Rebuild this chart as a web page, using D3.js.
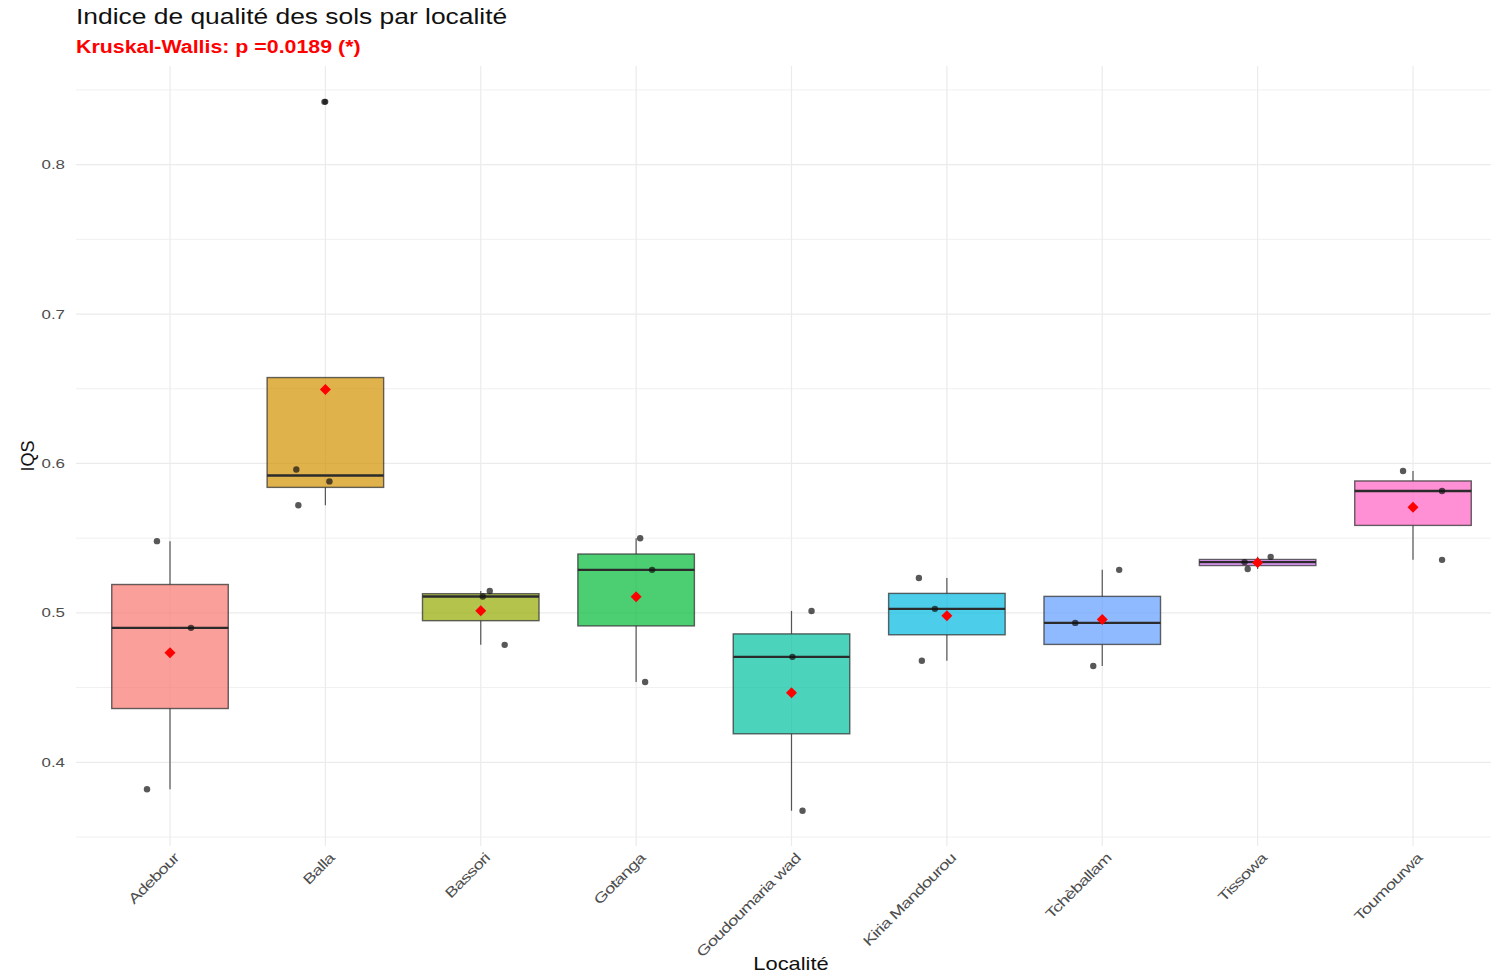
<!DOCTYPE html>
<html><head><meta charset="utf-8">
<script src="https://cdn.jsdelivr.net/npm/d3@7"></script>
<style>body{margin:0;background:#fff;font-family:"Liberation Sans",Arial,sans-serif;}</style>
</head><body><svg id="c" width="1491" height="978"></svg>
<script>
const categories = ["Adebour","Balla","Bassori","Gotanga","Goudoumaria wad","Kiria Mandourou","Tchèballam","Tissowa","Toumourwa"];
const colors = ["#F8766D","#D39200","#93AA00","#00BA38","#00C19F","#00B9E3","#619CFF","#DB72FB","#FF61C3"];
const values = [
  [0.548,0.490,0.382],
  [0.842,0.596,0.588,0.572],
  [0.5147,0.511,0.4786],
  [0.550,0.5288,0.4538],
  [0.5013,0.4706,0.3676],
  [0.5234,0.5027,0.468],
  [0.5288,0.4933,0.4645],
  [0.5375,0.534,0.5294],
  [0.595,0.5816,0.5355]
];
const jitter = [
  [-0.084,0.135,-0.148],
  [-0.006,-0.187,0.026,-0.174],
  [0.058,0.013,0.154],
  [0.026,0.103,0.058],
  [0.129,0.006,0.071],
  [-0.18,-0.077,-0.161],
  [0.109,-0.174,-0.058],
  [0.084,-0.084,-0.064],
  [-0.064,0.187,0.187]
];
const yTicks = [0.4,0.5,0.6,0.7,0.8];
const yMinor = [0.35,0.45,0.55,0.65,0.75,0.85];
const title = "Indice de qualité des sols par localité";
const subtitle = "Kruskal-Wallis: p =0.0189 (*)";

(function(){
const svg = d3.select("#c");
const x = d3.scalePoint().domain(categories).range([170,1413]);
const step = x.step();
const y = d3.scaleLinear().domain([0.344,0.866]).range([846,66]);
const pL = 76, pR = 1491, pT = 66, pB = 846;

const g = svg.append("g");
g.selectAll(".gmin").data(yMinor).join("line")
  .attr("x1",pL).attr("x2",pR).attr("y1",d=>y(d)).attr("y2",d=>y(d))
  .attr("stroke","#f0f0f0").attr("stroke-width",1);
g.selectAll(".gmaj").data(yTicks).join("line")
  .attr("x1",pL).attr("x2",pR).attr("y1",d=>y(d)).attr("y2",d=>y(d))
  .attr("stroke","#ebebeb").attr("stroke-width",1.2);
g.selectAll(".gx").data(categories).join("line")
  .attr("x1",d=>x(d)).attr("x2",d=>x(d)).attr("y1",pT).attr("y2",pB)
  .attr("stroke","#ebebeb").attr("stroke-width",1.2);

const stats = categories.map((c,i)=>{
  const s = values[i].slice().sort(d3.ascending);
  const q1=d3.quantile(s,0.25), med=d3.quantile(s,0.5), q3=d3.quantile(s,0.75), iqr=q3-q1;
  const lo = d3.min(s.filter(v=>v>=q1-1.5*iqr)), hi = d3.max(s.filter(v=>v<=q3+1.5*iqr));
  const out = s.filter(v=>v<q1-1.5*iqr||v>q3+1.5*iqr);
  return {c,i,q1,med,q3,lo,hi,out,mean:d3.mean(s)};
});
const bw = step*0.75;
const bg = g.selectAll(".box").data(stats).join("g");
bg.append("line").attr("x1",d=>x(d.c)).attr("x2",d=>x(d.c))
  .attr("y1",d=>y(d.q3)).attr("y2",d=>y(Math.max(d.hi,d.q3))).attr("stroke","#555").attr("stroke-width",1.2);
bg.append("line").attr("x1",d=>x(d.c)).attr("x2",d=>x(d.c))
  .attr("y1",d=>y(d.q1)).attr("y2",d=>y(Math.min(d.lo,d.q1))).attr("stroke","#555").attr("stroke-width",1.2);
bg.append("rect").attr("x",d=>x(d.c)-bw/2).attr("width",bw)
  .attr("y",d=>y(d.q3)).attr("height",d=>y(d.q1)-y(d.q3))
  .attr("fill",d=>colors[d.i]).attr("fill-opacity",0.7)
  .attr("stroke","#333").attr("stroke-opacity",0.75).attr("stroke-width",1.4);
bg.append("line").attr("x1",d=>x(d.c)-bw/2).attr("x2",d=>x(d.c)+bw/2)
  .attr("y1",d=>y(d.med)).attr("y2",d=>y(d.med)).attr("stroke","#2b2b2b").attr("stroke-width",2.4);
stats.forEach(d=>{
  g.append("g").selectAll("circle").data(d.out).join("circle").attr("cx",x(d.c)).attr("cy",v=>y(v))
    .attr("r",3).attr("fill","#111").attr("fill-opacity",0.7);
});
categories.forEach((c,i)=>{
  g.append("g").selectAll("circle").data(values[i]).join("circle")
    .attr("cx",(v,j)=>x(c)+jitter[i][j]*step).attr("cy",v=>y(v))
    .attr("r",3.2).attr("fill","#111").attr("fill-opacity",0.7);
});
g.selectAll(".mean").data(stats).join("path")
  .attr("d",d3.symbol(d3.symbolSquare,60)())
  .attr("transform",d=>`translate(${x(d.c)},${y(d.mean)}) rotate(45)`)
  .attr("fill","red");

g.selectAll(".yt").data(yTicks).join("text")
  .attr("transform",d=>`translate(65,${y(d)}) scale(1.3,1)`).attr("dy","0.35em").attr("text-anchor","end")
  .attr("fill","#4d4d4d").attr("font-size",13).text(d=>d3.format(".1f")(d));
g.selectAll(".xt").data(categories).join("text")
  .attr("transform",d=>`translate(${x(d)+3},${852}) rotate(-45) scale(1.33,1)`)
  .attr("text-anchor","end").attr("dy","0.7em")
  .attr("fill","#4d4d4d").attr("font-size",14).attr("letter-spacing","-0.6px").text(d=>d);

svg.append("text").attr("transform","translate(76,24) scale(1.2,1)").attr("font-size",22).attr("fill","#111").text(title);
svg.append("text").attr("transform","translate(76,53) scale(1.155,1)").attr("font-size",18.5).attr("font-weight","bold").attr("fill","red").text(subtitle);
svg.append("text").attr("transform","translate(791,970) scale(1.25,1)").attr("text-anchor","middle").attr("font-size",17.5).attr("fill","#111").text("Localité");
svg.append("text").attr("transform","translate(34,456) rotate(-90)").attr("text-anchor","middle").attr("font-size",18).attr("fill","#111").text("IQS");
})();
</script></body></html>
